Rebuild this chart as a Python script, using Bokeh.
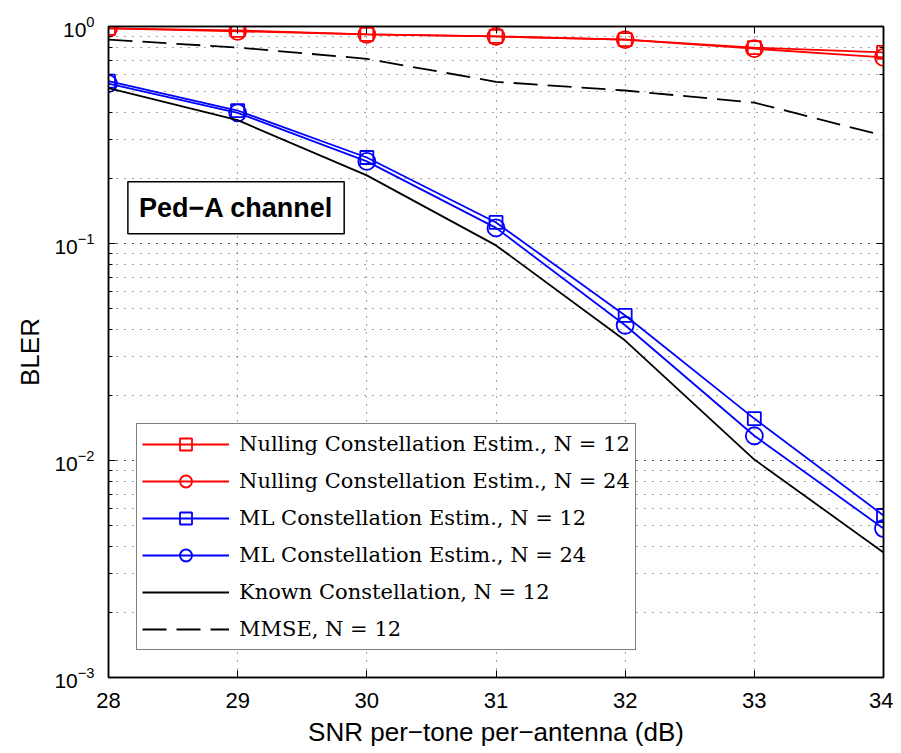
from bokeh.plotting import figure
from bokeh.models import (Range1d, LogAxis, LinearAxis, Legend, LegendItem, Label,
                          FixedTicker, LogTicker, CustomJSTickFormatter)
from bokeh.embed import file_html
from bokeh.resources import INLINE

snr = [28, 29, 30, 31, 32, 33, 34]
null_n12 = [0.98, 0.96, 0.92, 0.90, 0.87, 0.80, 0.76]
null_n24 = [0.98, 0.95, 0.92, 0.90, 0.87, 0.79, 0.72]
ml_n12 = [0.56, 0.41, 0.249, 0.125, 0.0466, 0.0156, 0.00558]
ml_n24 = [0.546, 0.40, 0.239, 0.118, 0.042, 0.013, 0.00486]
known_n12 = [0.52, 0.37, 0.206, 0.098, 0.0357, 0.0101, 0.00377]
mmse_n12 = [0.87, 0.80, 0.71, 0.556, 0.507, 0.446, 0.314]
x_ticks = [28, 29, 30, 31, 32, 33, 34]

FONT = "Liberation Sans"
SERIF = "DejaVu Serif"

p = figure(width=893, height=753, y_axis_type="log", output_backend="svg",
           toolbar_location=None, x_range=Range1d(28, 34), y_range=Range1d(1e-3, 1),
           min_border_left=108, min_border_right=10, min_border_top=26, min_border_bottom=76)
p.outline_line_color = "black"
p.outline_line_width = 1.5

for ax in [p.xaxis[0], p.yaxis[0]]:
    ax.major_tick_in = 7
    ax.major_tick_out = 0
    ax.minor_tick_in = 4
    ax.minor_tick_out = 0
    ax.axis_line_width = 1.5
    ax.major_label_text_font = FONT
    ax.major_label_text_color = "black"
    ax.axis_label_text_font = FONT
    ax.axis_label_text_font_style = "normal"
    ax.axis_label_text_font_size = "26px"
    ax.axis_label_text_color = "black"
p.xaxis.ticker = FixedTicker(ticks=x_ticks)
p.xaxis.minor_tick_line_color = None
p.xaxis.axis_label = "SNR per\u2212tone per\u2212antenna (dB)"
p.yaxis.axis_label = "BLER"
p.xaxis.major_label_text_font_size = "22px"
p.yaxis.major_label_text_font_size = "21px"
p.xaxis.major_label_standoff = 15
p.yaxis.major_label_standoff = 14
p.xaxis.axis_label_standoff = 6
p.yaxis.axis_label_standoff = 6

top = LinearAxis(ticker=FixedTicker(ticks=x_ticks), formatter=CustomJSTickFormatter(code="return '';"),
                 major_label_standoff=0, major_tick_in=7, major_tick_out=0,
                 minor_tick_line_color=None, axis_line_width=1.5)
right = LogAxis(ticker=LogTicker(), formatter=CustomJSTickFormatter(code="return '';"),
                major_label_standoff=0, major_tick_in=7, major_tick_out=0,
                minor_tick_in=4, minor_tick_out=0, axis_line_width=1.5)
p.add_layout(top, "above")
p.add_layout(right, "right")

p.xgrid.ticker = FixedTicker(ticks=x_ticks)
for g in [p.xgrid[0], p.ygrid[0]]:
    g.grid_line_color = "#444444"
    g.grid_line_dash = "1 7"
    g.grid_line_width = 1
p.ygrid.minor_grid_line_color = "#444444"
p.ygrid.minor_grid_line_dash = "1 7"

r1 = p.line(snr, null_n12, line_color="red", line_width=1.8)
s1 = p.scatter(snr, null_n12, marker="square", size=13, line_color="red", fill_color=None, line_width=1.8)
r2 = p.line(snr, null_n24, line_color="red", line_width=1.8)
s2 = p.scatter(snr, null_n24, marker="circle", size=17, line_color="red", fill_color=None, line_width=1.8)
r3 = p.line(snr, ml_n12, line_color="blue", line_width=1.8)
s3 = p.scatter(snr, ml_n12, marker="square", size=13, line_color="blue", fill_color=None, line_width=1.8)
r4 = p.line(snr, ml_n24, line_color="blue", line_width=1.8)
s4 = p.scatter(snr, ml_n24, marker="circle", size=17, line_color="blue", fill_color=None, line_width=1.8)
r5 = p.line(snr, known_n12, line_color="black", line_width=1.8)
r6 = p.line(snr, mmse_n12, line_color="black", line_width=1.8, line_dash="24 10")

legend = Legend(items=[
    LegendItem(label="Nulling Constellation Estim., N = 12", renderers=[r1, s1]),
    LegendItem(label="Nulling Constellation Estim., N = 24", renderers=[r2, s2]),
    LegendItem(label="ML Constellation Estim., N = 12", renderers=[r3, s3]),
    LegendItem(label="ML Constellation Estim., N = 24", renderers=[r4, s4]),
    LegendItem(label="Known Constellation, N = 12", renderers=[r5]),
    LegendItem(label="MMSE, N = 12", renderers=[r6]),
], location=(28, 27))
legend.label_text_font = SERIF
legend.label_text_font_size = "21px"
legend.label_text_color = "black"
legend.glyph_width = 87
legend.glyph_height = 30
legend.label_height = 30
legend.spacing = 7
legend.padding = 5
legend.margin = 0
legend.label_standoff = 10
legend.border_line_color = "black"
legend.border_line_width = 1.5
legend.background_fill_alpha = 1
p.add_layout(legend, "center")

lbl = Label(x=28.15, y=0.146, text="Ped\u2212A channel", text_font=FONT, text_font_style="bold",
            text_font_size="27px", text_baseline="middle", text_align="left", text_color="black",
            border_line_color="black", border_line_width=1.5, background_fill_color="white",
            padding=11)
p.add_layout(lbl)

open("out.html", "w").write(file_html(p, INLINE))
